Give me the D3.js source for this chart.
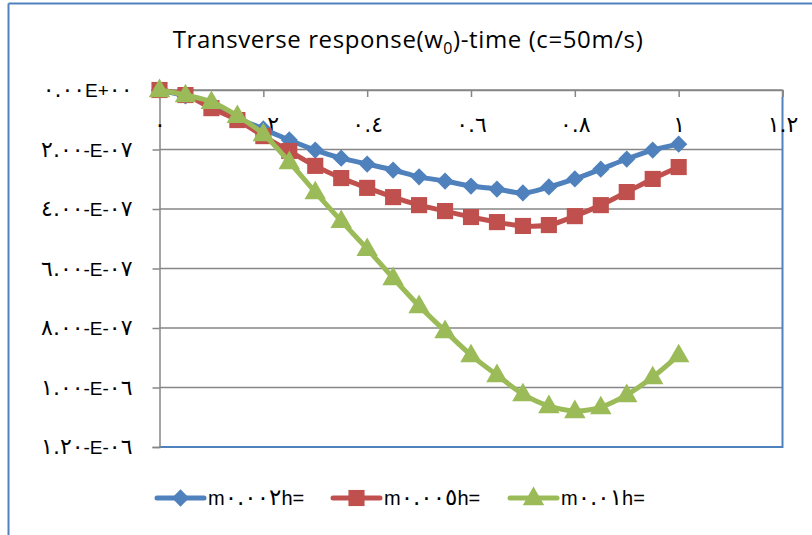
<!DOCTYPE html>
<html>
<head>
<meta charset="utf-8">
<script src="https://cdn.jsdelivr.net/npm/d3@7"></script>
<style>
  html, body { margin: 0; padding: 0; background: #fff; }
  svg { display: block; }
  text { font-family: "Liberation Sans", "DejaVu Sans", sans-serif; fill: #000; }
  .ar { font-family: "DejaVu Sans", sans-serif; }
</style>
</head>
<body>
<svg id="chart" width="812" height="535"></svg>
<script>
// Time samples (s)
const times = [0, 0.05, 0.1, 0.15, 0.2, 0.25, 0.3, 0.35, 0.4, 0.45, 0.5,
               0.55, 0.6, 0.65, 0.7, 0.75, 0.8, 0.85, 0.9, 0.95, 1.0];

// Transverse response w0 (m) for each mass ratio
const seriesH002 = [0, -0.20e-7, -0.47e-7, -0.94e-7, -1.31e-7, -1.68e-7, -2.02e-7, -2.29e-7, -2.49e-7, -2.69e-7, -2.92e-7,
                    -3.06e-7, -3.23e-7, -3.33e-7, -3.46e-7, -3.26e-7, -2.99e-7, -2.66e-7, -2.32e-7, -2.02e-7, -1.82e-7];
const seriesH005 = [0, -0.17e-7, -0.61e-7, -1.01e-7, -1.55e-7, -2.05e-7, -2.55e-7, -2.96e-7, -3.29e-7, -3.60e-7, -3.87e-7,
                    -4.07e-7, -4.27e-7, -4.44e-7, -4.57e-7, -4.54e-7, -4.24e-7, -3.87e-7, -3.43e-7, -2.99e-7, -2.59e-7];
const seriesH01  = [0, -0.17e-7, -0.40e-7, -0.87e-7, -1.48e-7, -2.42e-7, -3.43e-7, -4.40e-7, -5.34e-7, -6.32e-7, -7.26e-7,
                    -8.10e-7, -8.91e-7, -9.58e-7, -10.22e-7, -10.62e-7, -10.79e-7, -10.66e-7, -10.25e-7, -9.65e-7, -8.91e-7];

const seriesNames = ["m٠.٠٠٢h=", "m٠.٠٠٥h=", "m٠.٠١h="];

// Axis ticks and their labels
const xTicks = [0, 0.2, 0.4, 0.6, 0.8, 1.0, 1.2];
const xTickLabels = ["٠", "٠.٢", "٠.٤", "٠.٦", "٠.٨", "١", "١.٢"];
const yTicks = [0, -2e-7, -4e-7, -6e-7, -8e-7, -1e-6, -1.2e-6];
const yTickLabels = ["٠.٠٠E+٠٠", "٢.٠٠-E-٠٧", "٤.٠٠-E-٠٧", "٦.٠٠-E-٠٧", "٨.٠٠-E-٠٧", "١.٠٠-E-٠٦", "١.٢٠-E-٠٦"];

const svg = d3.select("#chart");
const frameBlue = "#4f81bd";
const gridGray = "#868686";

const plot = { left: 159.5, right: 782.5, top: 90, bottom: 447 };

const x = d3.scaleLinear().domain([0, 1.2]).range([plot.left, plot.right]);
const y = d3.scaleLinear().domain([-1.2e-6, 0]).range([plot.bottom, plot.top]);

// Writes a label into a text node, giving Arabic-Indic digit runs their own (larger) size
function writeLabel(textSel, str, latinSize, digitSize) {
  textSel.text(null).style("font-size", latinSize + "px");
  str.split(/([\u0660-\u0669.]+)/).filter(p => p.length).forEach(part => {
    const isDigits = /^[\u0660-\u0669.]+$/.test(part);
    textSel.append("tspan")
      .attr("class", isDigits ? "ar" : null)
      .style("font-size", (isDigits ? digitSize : latinSize) + "px")
      .text(part);
  });
}

// Outer chart frame (left and top edges)
svg.append("line").attr("x1", 8.5).attr("x2", 8.5).attr("y1", 3.5).attr("y2", 535)
  .attr("stroke", frameBlue).attr("stroke-width", 2);
svg.append("line").attr("x1", 8.5).attr("x2", 812).attr("y1", 3.5).attr("y2", 3.5)
  .attr("stroke", frameBlue).attr("stroke-width", 2);

// Title
const title = svg.append("text").attr("x", 408).attr("y", 48).attr("text-anchor", "middle")
  .style("font-family", "'Open Sans', sans-serif").style("font-size", "24px")
  .style("letter-spacing", "0.6px");
title.append("tspan").text("Transverse response(w");
title.append("tspan").attr("dy", 6).style("font-size", "16px").text("0");
title.append("tspan").attr("dy", -6).text(")-time (c=50m/s)");

// Horizontal gridlines
svg.append("g").selectAll("line").data(yTicks).join("line")
  .attr("x1", plot.left).attr("x2", plot.right)
  .attr("y1", d => y(d)).attr("y2", d => y(d))
  .attr("stroke", gridGray).attr("stroke-width", 1.5);

// Plot area right and bottom edges
svg.append("line").attr("x1", plot.right).attr("x2", plot.right).attr("y1", plot.top).attr("y2", plot.top + 7)
  .attr("stroke", gridGray).attr("stroke-width", 1.5);
svg.append("path")
  .attr("d", `M${plot.right},${plot.top + 7}V${plot.bottom}H${plot.left}`)
  .attr("fill", "none").attr("stroke", frameBlue).attr("stroke-width", 2);

// Y axis on the left
const yAxis = d3.axisLeft(y).tickValues(yTicks).tickSize(7).tickPadding(20)
  .tickFormat((d, i) => yTickLabels[i]);
const gy = svg.append("g").attr("transform", `translate(${plot.left},0)`).call(yAxis);
gy.attr("font-family", null).attr("font-size", null);
gy.select(".domain").attr("stroke", gridGray).attr("stroke-width", 1.5);
gy.selectAll(".tick line").attr("stroke", gridGray).attr("stroke-width", 1.5);
gy.selectAll(".tick text").attr("fill", "#000").attr("dy", "0.36em")
  .each(function (d, i) { writeLabel(d3.select(this), yTickLabels[i], 19, 22); });

// X axis along the zero line, ticks pointing into the plot
const xAxis = d3.axisBottom(x).tickValues(xTicks).tickSize(7).tickPadding(0)
  .tickFormat((d, i) => xTickLabels[i]);
const gx = svg.append("g").attr("transform", `translate(0,${plot.top})`).call(xAxis);
gx.attr("font-family", null).attr("font-size", null);
gx.select(".domain").attr("stroke", gridGray).attr("stroke-width", 1.5);
gx.selectAll(".tick line").attr("stroke", gridGray).attr("stroke-width", 1.5);
gx.selectAll(".tick text").attr("fill", "#000").attr("y", 42).attr("dy", 0)
  .each(function (d, i) { writeLabel(d3.select(this), xTickLabels[i], 19, 22); });

// Series
const series = [
  { name: seriesNames[0], values: seriesH002, color: "#4f81bd", shape: "diamond" },
  { name: seriesNames[1], values: seriesH005, color: "#c0504d", shape: "square" },
  { name: seriesNames[2], values: seriesH01,  color: "#9bbb59", shape: "triangle" }
];

const symbolFor = {
  diamond: d3.symbol().type(d3.symbolDiamond2).size(190),
  square: d3.symbol().type(d3.symbolSquare).size(260),
  triangle: d3.symbol().type(d3.symbolTriangle).size(200)
};

const line = d3.line()
  .x((d, i) => x(times[i]))
  .y(d => y(d))
  .curve(d3.curveCatmullRom.alpha(0.5));

series.forEach(s => {
  const g = svg.append("g");
  g.append("path").datum(s.values).attr("d", line)
    .attr("fill", "none").attr("stroke", s.color).attr("stroke-width", 5)
    .attr("stroke-linejoin", "round").attr("stroke-linecap", "round");
  g.selectAll("path.marker").data(s.values).join("path")
    .attr("class", "marker")
    .attr("transform", (d, i) => `translate(${x(times[i])},${y(d) + (s.shape === "triangle" ? 1 : 0)})`)
    .attr("d", symbolFor[s.shape]())
    .attr("fill", s.color);
});

// Legend
const legendX = [157, 333, 510];
const legend = svg.append("g");
series.forEach((s, i) => {
  const lg = legend.append("g").attr("transform", `translate(${legendX[i]},498)`);
  lg.append("line").attr("x1", 0).attr("x2", 47).attr("y1", 0).attr("y2", 0)
    .attr("stroke", s.color).attr("stroke-width", 5).attr("stroke-linecap", "round");
  lg.append("path").attr("transform", `translate(23.5,${s.shape === "triangle" ? 1 : 0})`)
    .attr("d", symbolFor[s.shape]()).attr("fill", s.color);
  const t = lg.append("text").attr("x", 51).attr("y", 0).attr("dy", "0.36em");
  writeLabel(t, s.name, 20, 23);
});
</script>
</body>
</html>
